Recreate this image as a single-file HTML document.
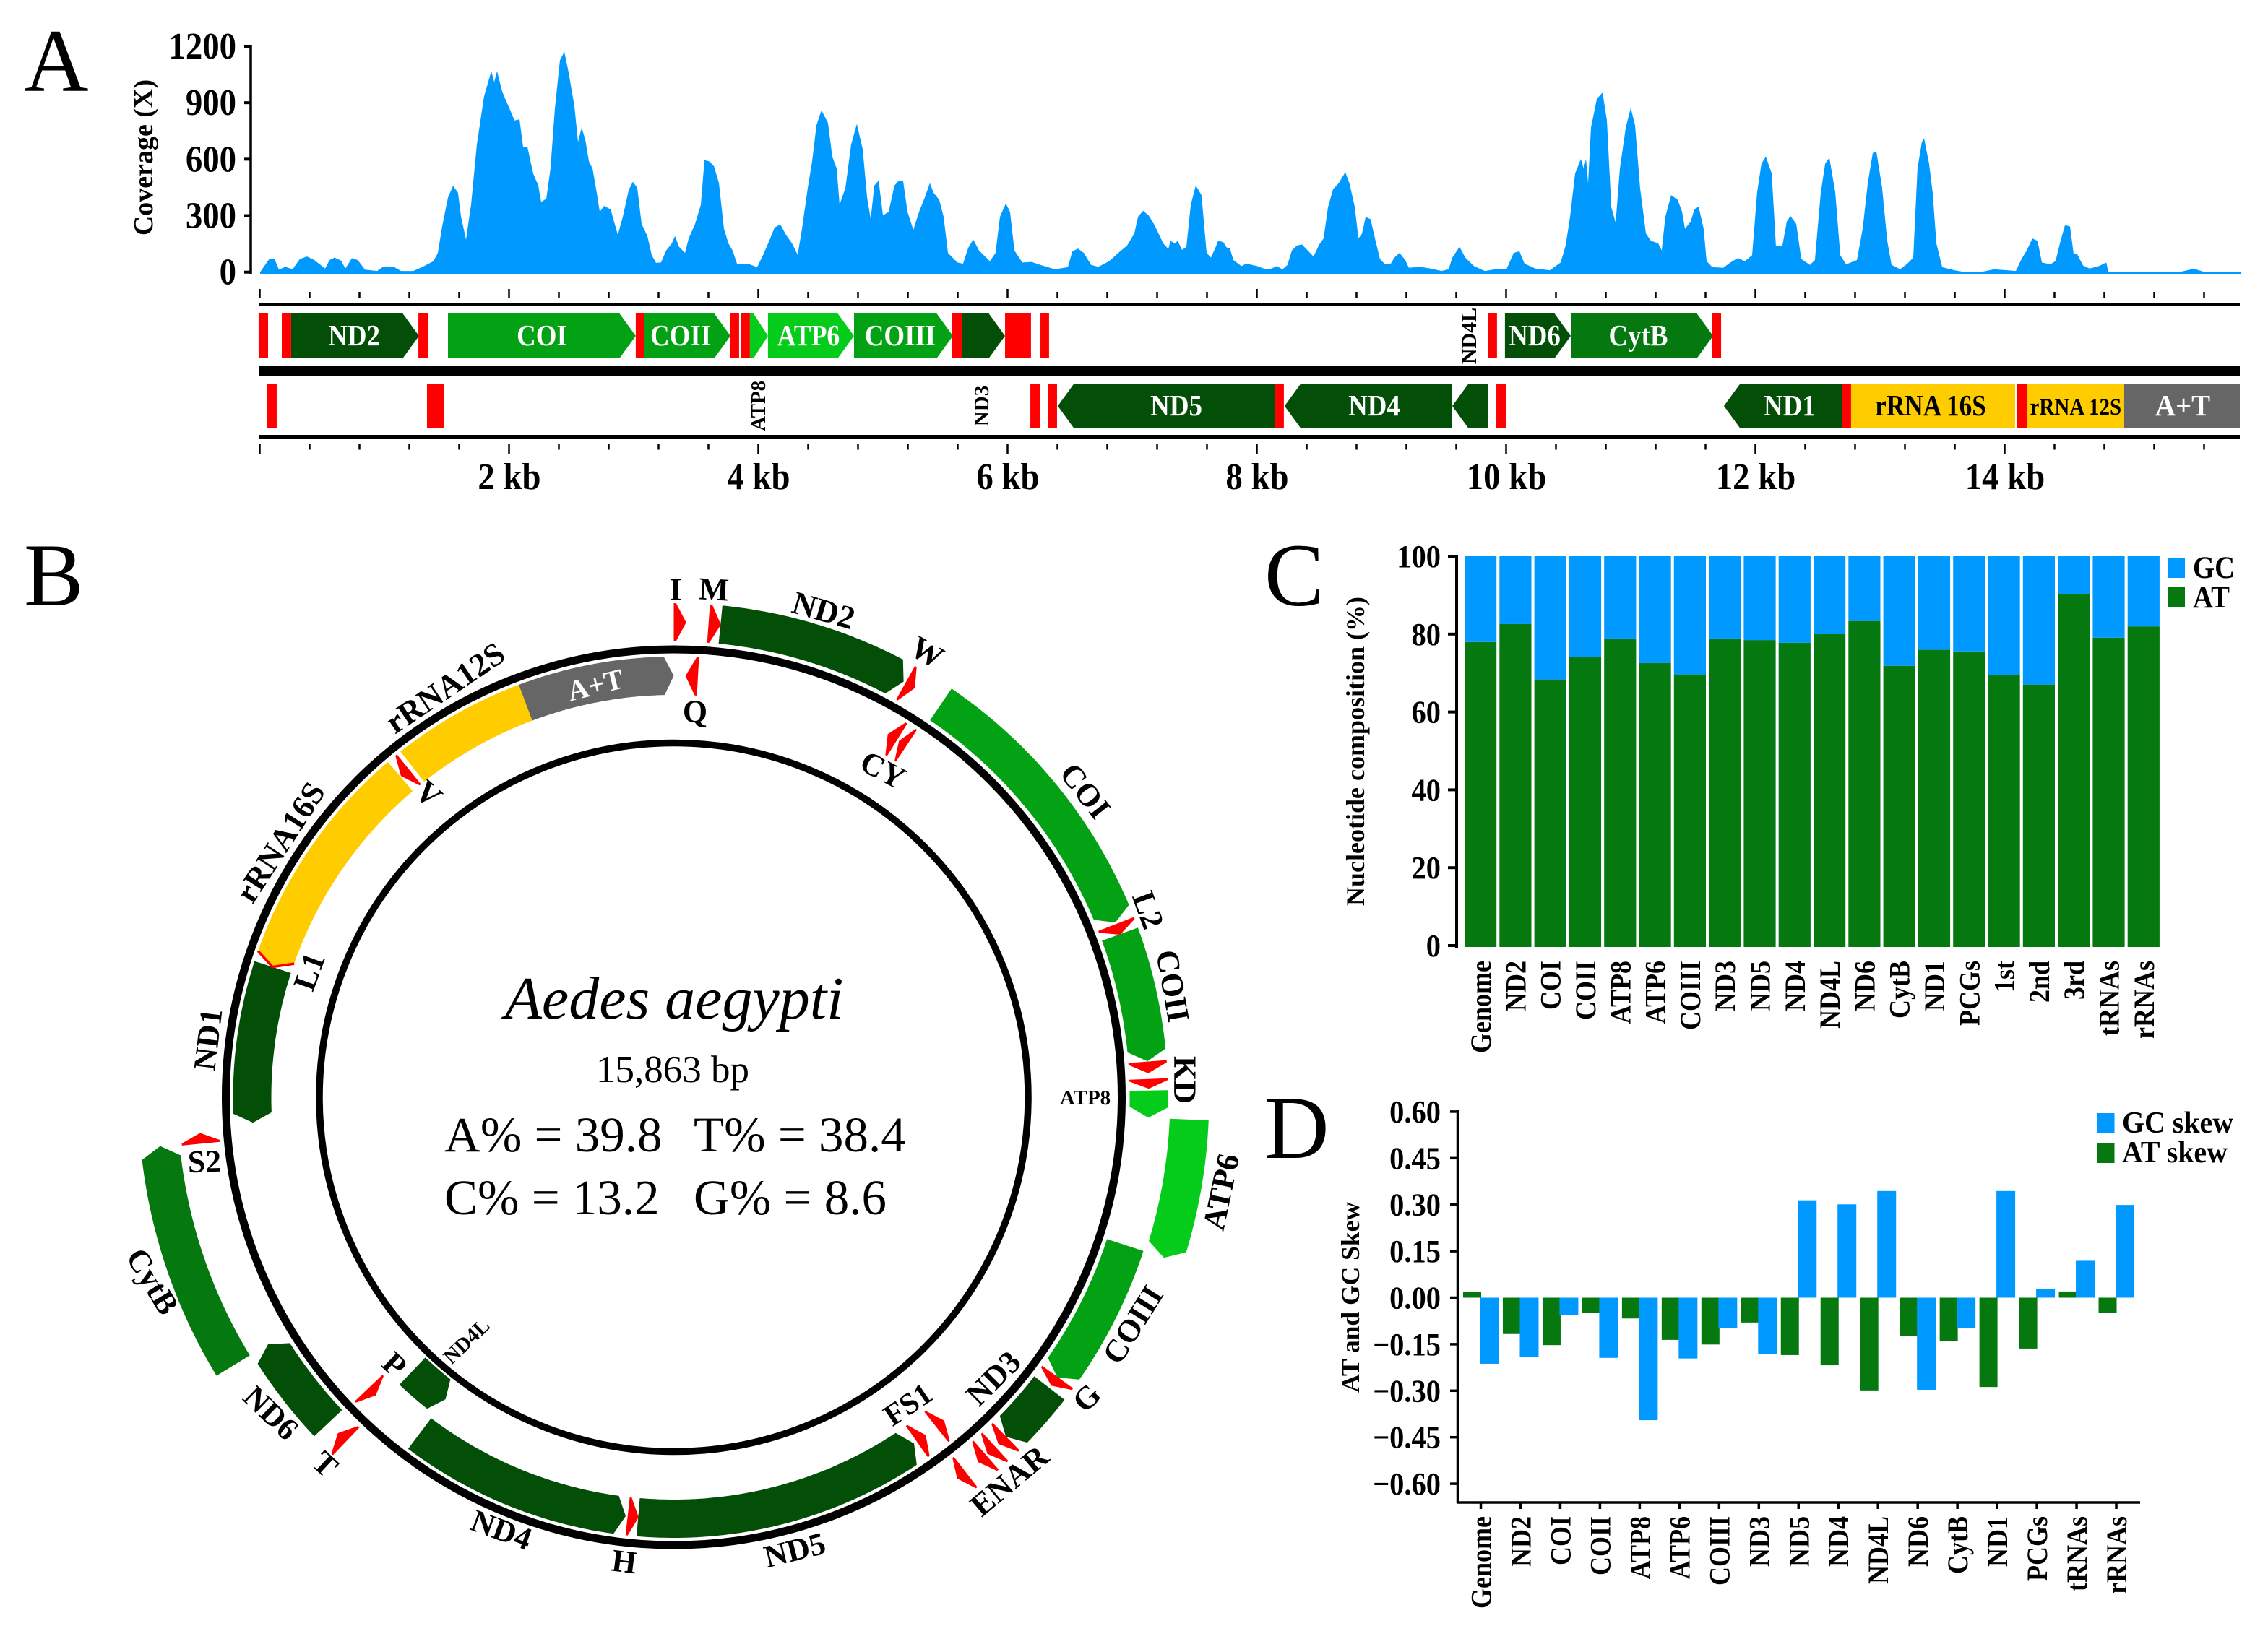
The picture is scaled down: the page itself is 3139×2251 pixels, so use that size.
<!DOCTYPE html>
<html lang="en">
<head>
<meta charset="utf-8">
<title>Aedes aegypti mitogenome</title>
<style>
html,body{margin:0;padding:0;background:#fff}
svg{display:block}
text{font-family:"Liberation Serif",serif}
.b{font-weight:bold}
</style>
</head>
<body>
<svg id="fig" xmlns="http://www.w3.org/2000/svg" width="3139" height="2251" viewBox="0 0 3139 2251">
<rect width="3139" height="2251" fill="#fff"/>
<g id="panelA">
<text x="33" y="126" font-size="124">A</text>
<text class="b" font-size="38" text-anchor="middle" transform="translate(211 218) rotate(-90)">Coverage (X)</text>
</g>
<g id="panelB">
<text x="33" y="838" font-size="124">B</text>
<circle cx="932.5" cy="1519" r="620" fill="none" stroke="#000" stroke-width="11"/>
<circle cx="932.5" cy="1519" r="490.5" fill="none" stroke="#000" stroke-width="9.5"/>
<text x="933" y="1410" font-size="84" font-style="italic" text-anchor="middle">Aedes aegypti</text>
<text x="931" y="1498" font-size="53" text-anchor="middle">15,863 bp</text>
<text x="615" y="1594" font-size="69">A% = 39.8</text>
<text x="960" y="1594" font-size="69">T% = 38.4</text>
<text x="615" y="1681" font-size="69">C% = 13.2</text>
<text x="960" y="1681" font-size="69">G% = 8.6</text>
</g>
<g id="panelC">
<text x="1750" y="838" font-size="124">C</text>
<text class="b" font-size="36" text-anchor="middle" transform="translate(1888 1040) rotate(-90)">Nucleotide composition (%)</text>
<rect x="3001" y="772" width="23" height="28" fill="#0099ff"/>
<rect x="3001" y="813" width="23" height="28" fill="#05780f"/>
<text class="b" font-size="43" transform="translate(3035 800) scale(.9 1)">GC</text>
<text class="b" font-size="43" transform="translate(3035 841) scale(.9 1)">AT</text>
</g>
<g id="panelD">
<text x="1750" y="1603" font-size="124">D</text>
<text class="b" font-size="35.5" text-anchor="middle" transform="translate(1881 1796) rotate(-90)">AT and GC Skew</text>
<rect x="2903" y="1541" width="23.5" height="28" fill="#0099ff"/>
<rect x="2903" y="1582" width="23.5" height="28" fill="#05780f"/>
<text class="b" font-size="42" transform="translate(2937 1568) scale(.95 1)">GC skew</text>
<text class="b" font-size="42" transform="translate(2937 1609) scale(.95 1)">AT skew</text>
</g>
</svg>
<script>
/* ---------- Panel A data ---------- */
const coverageBp = [
0,70,116,151,203,261,319,377,435,522,557,597,649,684,736,783,841,939,986,1072,
1130,1229,1304,1391,1426,1461,1507,1548,1588,1612,1652,1693,1739,1797,1855,1878,1901,1942,2000,2041,
2081,2110,2145,2191,2232,2255,2296,2330,2365,2406,2441,2475,2522,2551,2580,2609,2638,2667,2701,2725,
2760,2812,2870,2910,2957,2991,3026,3061,3107,3142,3177,3217,3258,3304,3328,3362,3409,3438,3490,3536,
3565,3606,3641,3681,3722,3757,3791,3826,3913,3988,4035,4093,4128,4174,4220,4267,4313,4348,4394,4429,
4464,4504,4556,4591,4626,4649,4696,4742,4788,4835,4870,4899,4928,4963,4997,5043,5090,5125,5159,5194,
5241,5287,5333,5374,5403,5449,5484,5519,5594,5640,5681,5722,5768,5855,5901,5936,5983,6017,6052,6116,
6191,6261,6377,6481,6516,6562,6609,6667,6725,6812,6898,6956,7014,7044,7084,7130,7177,7246,7287,7304,
7339,7362,7397,7432,7467,7507,7553,7594,7629,7664,7687,7727,7756,7780,7809,7873,7913,8000,8069,8116,
8156,8203,8243,8278,8319,8359,8406,8452,8498,8533,8568,8609,8655,8707,8742,8783,8812,8841,8870,8910,
8945,8985,9026,9072,9101,9142,9188,9217,9304,9391,9478,9536,9565,9623,9670,9739,9826,9913,10000,10058,
10104,10145,10232,10348,10435,10475,10510,10551,10597,10620,10638,10655,10678,10725,10771,10806,10841,10876,10910,10957,
10997,11032,11072,11119,11159,11217,11246,11275,11322,11374,11409,11432,11478,11507,11542,11582,11606,11652,11739,11797,
11855,11913,11971,12011,12046,12081,12128,12162,12214,12249,12278,12325,12365,12435,12475,12522,12557,12591,12638,12678,
12725,12812,12858,12899,12939,12968,13014,13055,13090,13159,13217,13264,13298,13333,13351,13391,13420,13449,13496,13594,
13681,13826,13913,14087,14133,14174,14220,14261,14296,14365,14406,14446,14481,14522,14551,14580,14626,14678,14754,14812,
14829,15130,15304,15420,15513,15594,15896];
const coverageValues = [
0,67,70,13,28,15,70,83,64,19,64,77,61,19,74,64,13,6,28,28,
6,6,28,58,102,243,396,458,422,294,173,358,678,934,1068,1010,1068,959,870,806,
812,665,665,524,460,373,390,550,870,1126,1170,1062,882,691,767,703,588,550,422,320,
352,333,198,294,435,480,448,256,192,90,49,51,115,153,192,134,102,179,256,358,
595,588,563,473,230,153,115,45,45,26,90,179,237,253,198,153,92,230,448,588,
780,859,793,614,550,358,448,678,787,652,396,281,460,486,301,320,460,486,486,320,
224,320,396,473,422,384,294,102,51,45,128,173,115,58,102,294,365,320,115,51,
54,38,15,26,109,125,102,38,28,58,109,141,205,294,326,301,249,153,122,166,
151,166,118,134,358,460,409,102,77,128,166,160,130,128,64,32,45,32,15,19,
32,15,38,115,141,147,115,83,147,179,345,441,473,531,467,345,179,205,294,281,
179,70,41,45,77,102,64,23,28,19,6,15,77,134,77,32,6,15,15,102,
111,45,19,10,51,141,294,524,601,550,601,473,767,921,953,806,345,262,550,767,
872,780,448,205,166,153,115,294,409,384,320,230,269,333,348,230,58,26,23,51,
74,58,90,422,576,614,524,141,141,269,298,256,70,38,64,422,576,608,422,90,
41,64,230,473,633,640,448,166,38,15,45,77,550,691,712,576,422,153,26,10,
0,3,15,6,70,115,179,166,51,41,60,166,249,243,96,95,35,19,32,51,
2,2,2,3,18,2,0];
const coverageTicks = [0,300,600,900,1200];
const kbLabels = [2,4,6,8,10,12,14];

/* linear gene map: names, starts, ends (bp), row */
const linearNames  = ['I','M','ND2','W','COI','L2','COII','K','D','ATP8','ATP6','COIII','G','ND3','ARN','S1','T','ND6','CytB','S2',
                      'Q','CY','E','F','ND5','H','ND4','ND4L','P','ND1','L1','rRNA 16S','V','rRNA 12S','A+T'];
const linearStarts = [-12,174,249,1270,1507,3014,3081,3768,3855,3930,4075,4765,5553,5629,5977,6261,9855,9988,10516,11652,
                      58,1339,6180,6324,6400,8145,8220,9565,9919,11745,12690,12765,14098,14174,14956];
const linearEnds   = [64,249,1275,1345,3014,3081,3774,3843,3930,4075,4765,5559,5629,5977,6185,6330,9924,10516,11658,11722,
                      133,1478,6255,6394,8145,8214,9565,9855,9994,12690,12765,14081,14174,14956,15884];
const linearRows   = [1,1,1,1,1,1,1,1,1,1,1,1,1,1,1,1,1,1,1,1,
                      2,2,2,2,2,2,2,2,2,2,2,2,2,2,2];
const geneColor = {ND2:'#034f08',COI:'#03a114',COII:'#03a114',ATP8:'#05cc1a',ATP6:'#05cc1a',COIII:'#03a114',ND3:'#034f08',
  ND6:'#034f08',CytB:'#05780f',ND5:'#034f08',ND4:'#034f08',ND4L:'#034f08',ND1:'#034f08',
  'rRNA 16S':'#ffcc00','rRNA 12S':'#ffcc00','A+T':'#666666'};
/* linear label placement along the genome (bp) */
const linearLabelNames = ['ND2','COI','COII','ATP6','COIII','ND6','CytB','ND5','ND4','ND1','rRNA 16S','rRNA 12S','A+T'];
const linearLabelBp    = [754,2261,3374,4400,5136,10226,11058,7351,8939,12272,13403,14567,15426];

/* circular map genes */
const circleNames  = ['ND2','COI','COII','ATP8','ATP6','COIII','ND3','ND6','CytB','ND5','ND4','ND4L','ND1','rRNA 16S','rRNA 12S','A+T'];
const circleStarts = [249,1507,3081,3930,4075,4765,5629,9988,10516,6400,8220,9565,11745,12690,14174,14956];
const circleEnds   = [1275,3014,3774,4075,4765,5559,5977,10516,11658,8145,9565,9855,12690,14081,14956,15863];
const circleStrand = [1,1,1,1,1,1,1,1,1,-1,-1,-1,-1,-1,0,1];
const circleBand   = ['outer','outer','outer','outer','far','outer','outer','outer','far','inner','inner','nd4l','inner','inner','inner','inner'];
const bandRadii = {outer:[631,684],far:[687,741],inner:[557,610],nd4l:[498,550]};

/* tRNAs on the circular map: back and tip location in bp */
const trnaNames = ['I','M','Q','W','C','Y','L2','K','D','G','R','A','N','E','S1','F','H','P','T','S2','V'];
const trnaBack  = [0,185,145,1287,1410,1476,3023,3776,3869,5556,5975,6054,6120,6261,6234,6380,8208,9975,9852,11650,14148];
const trnaTip   = [66,251,70,1344,1344,1423,3084,3838,3921,5613,6032,6111,6177,6318,6173,6314,8142,9914,9914,11707,14086];
const trnaBand  = ['outer','outer','inner','outer','inner','inner','outer','outer','outer','outer','outer','outer','outer','outer','inner','inner','inner','inner','outer','outer','inner'];
const l1Tip = 12690;

/* circular labels: text, x, y, rotation, size */
const circleLabelText = ['I','M','ND2','W','CY','COI','L2','COII','KD','ATP8','ATP6','COIII','G','ND3','FS1','ENAR','ND5','H','ND4','T','P','ND4L','ND6','CytB','S2','ND1','L1','rRNA16S','V','rRNA12S','A+T','Q'];
const circleLabelX = [935,988,1140,1283,1222,1502,1589,1623,1640,1502,1690,1568,1504,1375,1257,1397,1100,864,694,450,546,646,375,211,283,288,428,388,593,616,824,962];
const circleLabelY = [816,816,845,903,1066,1095,1260,1365,1495,1520,1650,1834,1935,1908,1945,2050,2146,2162,2118,2027,1889,1857,1956,1774,1608,1439,1345,1166,1099,952,948,985];
const circleLabelRot = [0,3,16,30,28,52,70,80,90,0,-78,-58,-45,-45,-34,-40,-14,7,20,43,43,-44,44,59,-2,-83,-70,-57,42,-34,-14,0];
const circleLabelSize = [44,44,45,44,44,44,44,44,44,29,44,44,44,44,42,44,44,44,44,44,44,29,44,44,44,44,44,45,44,45,40,44];

/* ---------- Panel C data ---------- */
const compCategories = ['Genome','ND2','COI','COII','ATP8','ATP6','COIII','ND3','ND5','ND4','ND4L','ND6','CytB','ND1','PCGs','1st','2nd','3rd','tRNAs','rRNAs'];
const compAT = [78.0,82.6,68.4,74.1,78.9,72.6,69.7,78.9,78.5,77.8,80.0,83.4,71.9,76.0,75.6,69.5,67.1,90.2,79.1,82.0];
const compGC = [22.0,17.4,31.6,25.9,21.1,27.4,30.3,21.1,21.5,22.2,20.0,16.6,28.1,24.0,24.4,30.5,32.9,9.8,20.9,18.0];
const compTicks = [0,20,40,60,80,100];

/* ---------- Panel D data ---------- */
const skewCategories = ['Genome','ND2','COI','COII','ATP8','ATP6','COIII','ND3','ND5','ND4','ND4L','ND6','CytB','ND1','PCGs','tRNAs','rRNAs'];
const skewAT = [0.018,-0.117,-0.153,-0.050,-0.067,-0.136,-0.151,-0.080,-0.185,-0.218,-0.299,-0.123,-0.141,-0.288,-0.164,0.020,-0.050];
const skewGC = [-0.213,-0.190,-0.055,-0.194,-0.395,-0.196,-0.099,-0.181,0.314,0.301,0.344,-0.297,-0.099,0.344,0.027,0.119,0.299];
const skewTicks = [0.60,0.45,0.30,0.15,0,-0.15,-0.30,-0.45,-0.60];

/* ---------- helpers ---------- */
const NS = 'http://www.w3.org/2000/svg';
function add(parent, tag, attrs, txt){
  const e = document.createElementNS(NS, tag);
  for (const k in attrs) e.setAttribute(k, attrs[k]);
  if (txt !== undefined) e.textContent = txt;
  parent.appendChild(e);
  return e;
}
function squeezed(parent, s, x, y, size, k, rot, anchor, fill){
  return add(parent, 'text', {
    class:'b', 'font-size':size, 'text-anchor':anchor, fill:fill || '#000',
    transform:'translate('+x+' '+y+') rotate('+rot+') scale('+k+' 1)'
  }, s);
}
function slug(s){ return String(s).toLowerCase().replace(/[^a-z0-9]+/g,'-'); }

/* ---------- Panel A ---------- */
const gA = document.getElementById('panelA');
const xBp = bp => 360 + bp * 0.1725;
const yCov = v => 376.7 - v * 0.2606;

let covD = 'M' + xBp(coverageBp[0]) + ' 379';
for (let i = 0; i < coverageBp.length && i < coverageValues.length; i++){
  covD += 'L' + xBp(coverageBp[i]).toFixed(1) + ' ' + yCov(coverageValues[i]).toFixed(1);
}
covD += 'L' + xBp(coverageBp[coverageBp.length-1]).toFixed(1) + ' 379Z';
const covArea = add(gA, 'path', {d:covD, fill:'#0099ff'});



const covAxis = add(gA, 'line', {x1:347, x2:347, y1:62, y2:379, stroke:'#000', 'stroke-width':3.5});


coverageTicks.forEach(v => {
  const t = add(gA, 'line', {x1:338, x2:347, y1:yCov(v), y2:yCov(v), stroke:'#000', 'stroke-width':4});
  
  
  const l = squeezed(gA, v, 327, yCov(v)+17, 52, 0.9, 0, 'end');
  
  
});

[[419,424,'map-top-rule'],[507,520,'map-middle-rule'],[602,608,'map-bottom-rule']].forEach(r => {
  const b = add(gA, 'rect', {x:358, y:r[0], width:2742, height:r[1]-r[0], fill:'#000'});
  
  
});

for (let bp = 0; bp <= 15600; bp += 400){
  const major = bp % 2000 === 0;
  const up = add(gA, 'line', {x1:xBp(bp)-0.5, x2:xBp(bp)-0.5, y1:major?400:404, y2:412, stroke:'#000', 'stroke-width':2.5});
  
  
  const dn = add(gA, 'line', {x1:xBp(bp)-0.5, x2:xBp(bp)-0.5, y1:614, y2:major?628:622.5, stroke:'#000', 'stroke-width':2.5});
  
  
}
kbLabels.forEach(k => {
  const l = squeezed(gA, k + ' kb', xBp(k*1000), 677, 52, 0.9, 0, 'middle');
  
  
});

linearNames.forEach((name, i) => {
  const x0 = xBp(linearStarts[i]), x1 = xBp(linearEnds[i]);
  const rowTop = linearRows[i] === 1 ? 434 : 531;
  const rowBot = rowTop + 62, rowMid = rowTop + 31;
  let shape;
  if (!geneColor[name]){
    shape = add(gA, 'rect', {x:x0, y:rowTop, width:x1-x0, height:62, fill:'#ff0000'});
  } else if (name.indexOf('rRNA') === 0 || name === 'A+T'){
    shape = add(gA, 'rect', {x:x0, y:rowTop, width:x1-x0, height:62, fill:geneColor[name]});
  } else {
    const head = Math.min(22.5, (x1-x0)*0.8);
    const pts = linearRows[i] === 1
      ? [[x0,rowTop],[x1-head,rowTop],[x1,rowMid],[x1-head,rowBot],[x0,rowBot]]
      : [[x1,rowTop],[x0+head,rowTop],[x0,rowMid],[x0+head,rowBot],[x1,rowBot]];
    shape = add(gA, 'polygon', {points:pts.map(p => p[0].toFixed(1)+','+p[1]).join(' '), fill:geneColor[name]});
  }
  
  
  const li = linearLabelNames.indexOf(name);
  if (li >= 0){
    const dark = name.indexOf('rRNA') === 0;
    const small = name === 'rRNA 12S';
    const k = name === 'rRNA 16S' ? 0.86 : name === 'ATP6' ? 0.87 : small ? 0.88 : name === 'A+T' ? 0.95 : 0.9;
    const lab = squeezed(gA, name, xBp(linearLabelBp[li]), rowMid + (small ? 12 : 13), small ? 33 : 41, k, 0, 'middle', dark ? '#000' : '#fff');
    
    
  }
});
[['ATP8',1059,562,29],['ND3',1368,562,29],['ND4L',2043,465,30]].forEach(r => {
  const lab = add(gA, 'text', {'text-anchor':'middle', 'font-size':r[3], class:'b', transform:'translate('+r[1]+' '+r[2]+') rotate(-90)'}, r[0]);
  
  
});

/* ---------- Panel B ---------- */
const gB = document.getElementById('panelB');
const CX = 932.5, CY = 1519;
const deg = bp => bp * 360 / 15863;
function polar(r, a){
  const t = a * Math.PI / 180;
  return [CX + r * Math.sin(t), CY - r * Math.cos(t)];
}
function ptsStr(pts){ return pts.map(p => p[0].toFixed(1)+','+p[1].toFixed(1)).join(' '); }
const HEAD = 1.3;
circleNames.forEach((name, i) => {
  const r = bandRadii[circleBand[i]];
  const rm = (r[0]+r[1])/2;
  let a0 = deg(circleStarts[i]), a1 = deg(circleEnds[i]);
  const s = circleStrand[i];
  const outer = [], inner = [];
  const b0 = s < 0 ? a0 + HEAD : a0;
  const b1 = s > 0 ? a1 - HEAD : a1;
  const n = Math.max(2, Math.ceil((b1-b0)/0.5));
  for (let k = 0; k <= n; k++){
    const a = b0 + (b1-b0)*k/n;
    outer.push(polar(r[1], a));
    inner.push(polar(r[0], a));
  }
  inner.reverse();
  const pts = outer.slice();
  if (s > 0) pts.push(polar(rm, a1));
  pts.push(...inner);
  if (s < 0) pts.push(polar(rm, a0));
  const arc = add(gB, 'polygon', {points:ptsStr(pts), fill:geneColor[name]});
  
  
});
trnaNames.forEach((name, i) => {
  const r = bandRadii[trnaBand[i]];
  const rm = (r[0]+r[1])/2;
  const back = deg(trnaBack[i]), tip = deg(trnaTip[i]);
  const neck = back + (tip-back)*0.18;
  const pts = [polar(r[1],back), polar(r[1],neck), polar(rm,tip), polar(r[0],neck), polar(r[0],back)];
  const shape = add(gB, 'polygon', {points:ptsStr(pts), fill:'#ff0000'});
  
  
});
(function(){
  const a = deg(l1Tip);
  const pts = [polar(610,a+1.4), polar(584,a), polar(557,a+1.4)];
  const l1 = add(gB, 'polyline', {points:ptsStr(pts), fill:'none', stroke:'#ff0000', 'stroke-width':3.5});
  
  
})();
circleLabelText.forEach((txt, i) => {
  const lab = add(gB, 'text', {
    'text-anchor':'middle', 'dominant-baseline':'central', 'font-size':circleLabelSize[i], class:'b',
    fill: txt === 'A+T' ? '#fff' : '#000',
    transform:'translate('+circleLabelX[i]+' '+circleLabelY[i]+') rotate('+circleLabelRot[i]+')'
  }, txt);
  
  
});

/* ---------- Panel C ---------- */
const gC = document.getElementById('panelC');
const yComp = v => 1310 - v * 5.4;
compCategories.forEach((cat, i) => {
  const x = 2027 + i * 48.3, w = 44.2;
  const at = add(gC, 'rect', {x:x, y:yComp(compAT[i]), width:w, height:compAT[i]*5.4+1, fill:'#05780f'});
  
  
  const gc = add(gC, 'rect', {x:x, y:yComp(compAT[i]+compGC[i]), width:w, height:compGC[i]*5.4, fill:'#0099ff'});
  
  
  const lab = squeezed(gC, cat, x + w/2 + 14, 1330, 40, 0.9, -90, 'end');
  
  
});
const compAxis = add(gC, 'line', {x1:2016, x2:2016, y1:768, y2:1312, stroke:'#000', 'stroke-width':4});


compTicks.forEach(v => {
  const ty = 1309 - v * 5.39;
  const t = add(gC, 'line', {x1:2004, x2:2016, y1:ty, y2:ty, stroke:'#000', 'stroke-width':4});
  
  
  const l = squeezed(gC, v, 1994, ty+15, 44, 0.92, 0, 'end');
  
  
});

/* ---------- Panel D ---------- */
const gD = document.getElementById('panelD');
const ySkew = v => 1796.5 - v * 429.3;
skewCategories.forEach((cat, i) => {
  const c = 2049.5 + i * 54.97;
  const y0 = ySkew(0);
  const ya = ySkew(skewAT[i]), yg = ySkew(skewGC[i]);
  const at = add(gD, 'rect', {x:c-24.5, y:Math.min(y0,ya), width:25, height:Math.abs(ya-y0), fill:'#05780f'});
  
  
  const gc = add(gD, 'rect', {x:c-1, y:Math.min(y0,yg), width:26, height:Math.abs(yg-y0), fill:'#0099ff'});
  
  
  const t = add(gD, 'line', {x1:c, x2:c, y1:2080, y2:2089, stroke:'#000', 'stroke-width':3.5});
  
  
  const lab = squeezed(gD, cat, c + 14, 2099, 40, 0.9, -90, 'end');
  
  
});
const skewYAxis = add(gD, 'line', {x1:2017.5, x2:2017.5, y1:1537, y2:2081, stroke:'#000', 'stroke-width':3.5});


const skewXAxis = add(gD, 'line', {x1:2016, x2:2962, y1:2080, y2:2080, stroke:'#000', 'stroke-width':3.5});


skewTicks.forEach(v => {
  const ty = ySkew(v);
  const t = add(gD, 'line', {x1:2007, x2:2017, y1:ty, y2:ty, stroke:'#000', 'stroke-width':3.5});
  
  
  const txt = (v < 0 ? '\u2212' : '') + Math.abs(v).toFixed(2);
  const l = squeezed(gD, txt, 1994, ty+15, 44, 0.92, 0, 'end');
  
  
});
</script>
</body>
</html>
